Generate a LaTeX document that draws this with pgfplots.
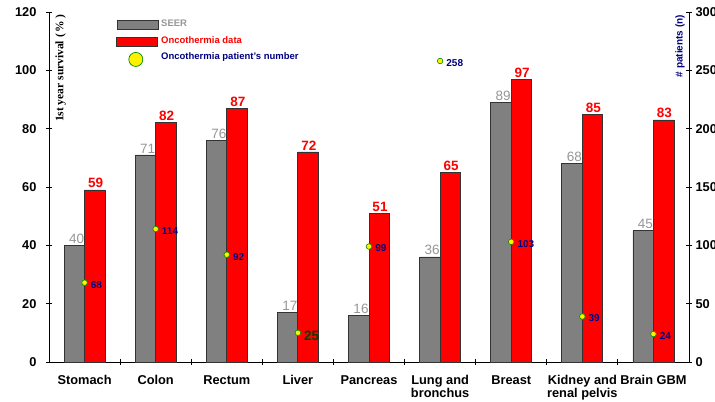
\documentclass[border=0pt]{standalone}
\usepackage{pgfplots}
\pgfplotsset{compat=1.18}
\usepackage{pgfplotstable}
\usepackage{fontspec}
\setmainfont{Liberation Sans}
\newfontfamily\seriffont{Liberation Serif}

\definecolor{seergray}{RGB}{128,128,128}
\definecolor{labelgray}{RGB}{150,150,150}
\definecolor{navyblue}{RGB}{0,0,128}
\definecolor{markgreen}{RGB}{0,140,0}
\definecolor{darkgreen}{RGB}{0,64,0}

% 1st year survival (%) per tumour site
\pgfplotstableread{
x seer onco
0 40 59
1 71 82
2 76 87
3 17 72
4 16 51
5 36 65
6 89 97
7 68 85
8 45 83
}\survival

% number of oncothermia patients per site
\pgfplotstableread{
x n
0 68
1 114
2 92
4 99
5 258
6 103
7 39
8 24
}\patients

\pgfplotstableread{
x n
3 25
}\liverpatients

\begin{document}
\begin{tikzpicture}
\begin{axis}[
  name=main,
  scale only axis, width=640pt, height=350pt,
  xmin=-0.5, xmax=8.5, ymin=0, ymax=120,
  axis x line*=bottom, axis y line*=left,
  axis line style={line width=0.9pt, black},
  every tick/.style={black, line width=0.9pt},
  tick align=center,
  major tick length=6pt, minor tick length=6pt,
  ytick={0,20,...,120},
  xtick={0,...,8},
  major x tick style={draw=none},
  minor xtick={0.5,1.5,...,7.5},
  xticklabels={Stomach,Colon,Rectum,Liver,Pancreas,{Lung and\\bronchus},Breast,{Kidney and\\renal pelvis},Brain GBM},
  xticklabel style={font=\bfseries\fontsize{12.8}{12.8}\selectfont, align=center, anchor=north, yshift=-7pt},
  yticklabel style={font=\bfseries\fontsize{12.8}{14}\selectfont, xshift=-6pt},
  /pgf/number format/assume math mode=true,
  legend style={at={(0.105,0.99)}, anchor=north west, draw=none, fill=none,
    font=\bfseries\fontsize{9.5}{11}\selectfont, row sep=4pt,
    cells={anchor=west}, inner xsep=0pt,
    /tikz/every even column/.append style={column sep=0pt}},
  legend cell align=left,
]
\addplot[ybar, bar width=20.5pt, bar shift=-10.25pt, fill=seergray, draw=black!80, line width=0.8pt,
  nodes near coords,
  every node near coord/.append style={text=labelgray, font=\fontsize{13.5}{15}\selectfont, inner sep=1.5pt, xshift=-8pt},
  legend image code/.code={\draw[fill=seergray, draw=black!80, line width=0.8pt] (1pt,-6pt) rectangle (42pt,3.5pt);}]
  table[x=x, y=seer] {\survival};
\addlegendentry[text=labelgray]{SEER}
\addplot[ybar, bar width=20.5pt, bar shift=10.25pt, fill=red, draw=black!80, line width=0.8pt,
  nodes near coords,
  every node near coord/.append style={text=red, font=\bfseries\fontsize{13.5}{15}\selectfont, inner sep=1.5pt, xshift=11pt},
  legend image code/.code={\draw[fill=red, draw=black!80, line width=0.8pt] (0pt,-6pt) rectangle (41pt,3pt);}]
  table[x=x, y=onco] {\survival};
\addlegendentry[text=red]{Oncothermia data}
\addlegendimage{legend image code/.code={\path (0pt,0pt) (42pt,0pt); \draw[fill=yellow, draw=markgreen, line width=0.7pt] (19pt,-2.5pt) circle (7pt);}}
\addlegendentry[text=navyblue]{Oncothermia patient's number}
\node[rotate=90, anchor=north east, font=\seriffont\bfseries\fontsize{11.5}{13}\selectfont, inner sep=1pt]
  at (rel axis cs:0.008,0.995) {1st year survival (\,\%\,)};
\end{axis}

\begin{axis}[
  scale only axis, width=640pt, height=350pt,
  xmin=-0.5, xmax=8.5, ymin=0, ymax=300,
  axis y line*=right, axis x line=none,
  axis line style={line width=0.9pt, black},
  every tick/.style={black, line width=0.9pt},
  tick align=center, major tick length=6pt,
  ytick={0,50,...,300},
  yticklabel style={font=\bfseries\fontsize{12.8}{14}\selectfont},
  /pgf/number format/assume math mode=true,
]
\addplot[only marks, mark=*, mark size=2.8pt, mark options={fill=yellow, draw=markgreen, line width=0.6pt},
  nodes near coords,
  every node near coord/.append style={anchor=west, text=navyblue, font=\bfseries\fontsize{10}{12}\selectfont, inner sep=1pt, xshift=5pt, yshift=-2pt}]
  table[x=x, y=n] {\patients};
\addplot[only marks, mark=*, mark size=2.8pt, mark options={fill=yellow, draw=markgreen, line width=0.6pt},
  nodes near coords,
  every node near coord/.append style={anchor=west, text=darkgreen, font=\bfseries\fontsize{13.5}{15}\selectfont, inner sep=1pt, xshift=5pt, yshift=-3pt}]
  table[x=x, y=n] {\liverpatients};
\node[rotate=90, anchor=south east, text=navyblue, font=\bfseries\fontsize{10}{12}\selectfont, inner sep=1pt]
  at (rel axis cs:0.995,0.995) {\# patients (n)};
\end{axis}

\pgfresetboundingbox
\path ([xshift=-49pt, yshift=-39pt]main.south west) rectangle ([xshift=26pt, yshift=12pt]main.north east);
\end{tikzpicture}
\end{document}
